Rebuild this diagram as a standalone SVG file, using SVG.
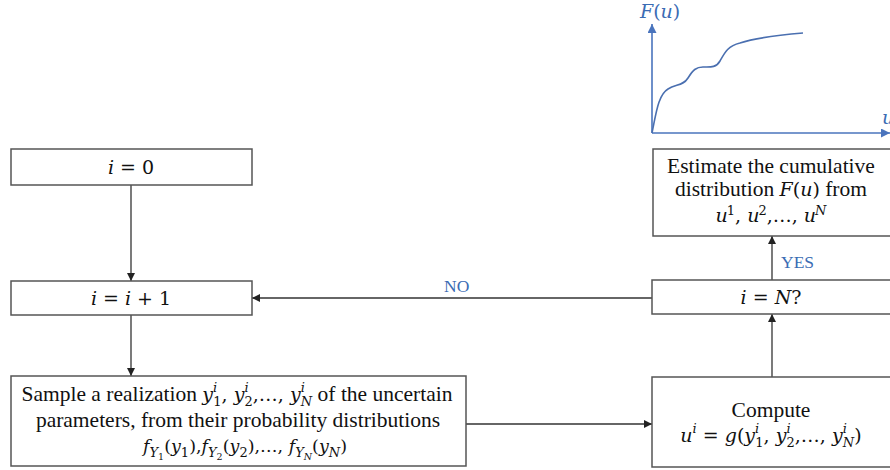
<svg xmlns="http://www.w3.org/2000/svg" width="890" height="470" viewBox="0 0 890 470">
  <style>
    .box { fill: #ffffff; stroke: #555555; stroke-width: 1.5; }
    .t { font-family: "Liberation Serif", "Times New Roman", serif; font-size: 21.5px; fill: #111111; }
    .mt { text-anchor: middle; }
    .mf { font-family: "DejaVu Serif", "Liberation Serif", serif; font-size: 19px; }
    .m { font-style: italic; }
    .s { font-size: 13px; }
    .ss { font-size: 9.5px; }
    .narrow { font-size: 17.5px; }
    .lbl { font-family: "Liberation Serif", "Times New Roman", serif; font-size: 17.5px; fill: #3b6cb4; }
    .wire { fill: none; stroke: #333333; stroke-width: 1.3; }
    .axis { fill: none; stroke: #4a74bd; stroke-width: 1.6; }
    .curve { fill: none; stroke: #4a6fb0; stroke-width: 1.6; }
    .blue { fill: #3b6cb4; }
  </style>
  <defs>
    <marker id="arr" viewBox="0 0 10 10" refX="10" refY="5" markerWidth="8" markerHeight="8" markerUnits="userSpaceOnUse" orient="auto">
      <path d="M0,0 L10,5 L0,10 z" fill="#222222"/>
    </marker>
    <marker id="barr" viewBox="0 0 10 10" refX="10" refY="5" markerWidth="9" markerHeight="9" markerUnits="userSpaceOnUse" orient="auto">
      <path d="M0,0 L10,5 L0,10 z" fill="#4a74bd"/>
    </marker>
  </defs>

  <rect width="890" height="470" fill="#ffffff"/>

  <!-- plot of the cumulative distribution -->
  <g id="cdf-plot">
    <line class="axis" x1="652" y1="133" x2="652" y2="24" marker-end="url(#barr)"/>
    <line class="axis" x1="652" y1="133" x2="890" y2="133" marker-end="url(#barr)"/>
    <path class="curve" d="M652,133 C656,114 658,95 668,89 C676,84 683,86 688,78 C693,70 696,67 703,67 C710,67 716,68 720,61 C725,52 728,46 740,43 C755,38 780,35 803,33"/>
    <text class="t mf blue" x="640" y="18"><tspan class="m">F</tspan>(<tspan class="m">u</tspan>)</text>
    <text class="t mf m blue" x="882" y="124">u</text>
  </g>

  <!-- connectors -->
  <g id="connectors">
    <line class="wire" x1="466" y1="424" x2="652" y2="424" marker-end="url(#arr)"/>
    <line class="wire" x1="131" y1="185" x2="131" y2="281" marker-end="url(#arr)"/>
    <line class="wire" x1="131" y1="315" x2="131" y2="376" marker-end="url(#arr)"/>
    <line class="wire" x1="772" y1="377" x2="772" y2="314" marker-end="url(#arr)"/>
    <line class="wire" x1="772" y1="280" x2="772" y2="236" marker-end="url(#arr)"/>
    <line class="wire" x1="652" y1="298" x2="252" y2="298" marker-end="url(#arr)"/>
    <text class="lbl" x="444" y="292">NO</text>
    <text class="lbl" x="781" y="268">YES</text>
  </g>

  <g id="init">
    <rect class="box" x="11" y="149" width="241" height="36"/>
    <text class="t mf mt" x="131" y="174"><tspan class="m">i</tspan> = 0</text>
  </g>

  <g id="increment">
    <rect class="box" x="11" y="281" width="241" height="34"/>
    <text class="t mf mt" x="131" y="305"><tspan class="m">i</tspan> = <tspan class="m">i</tspan> + 1</text>
  </g>

  <g id="sample">
    <rect class="box" x="11" y="376" width="455" height="90"/>
    <text class="t mt" x="237" y="401">Sample a realization <tspan class="mf m">y</tspan><tspan class="mf s m" dy="-9">i</tspan><tspan class="mf s" dx="-4" dy="14">1</tspan><tspan class="mf" dy="-5">,  </tspan><tspan class="mf m">y</tspan><tspan class="mf s m" dy="-9">i</tspan><tspan class="mf s" dx="-4" dy="14">2</tspan><tspan class="mf" dy="-5">,…,  </tspan><tspan class="mf m">y</tspan><tspan class="mf s m" dy="-9">i</tspan><tspan class="mf s m" dx="-4" dy="14">N</tspan><tspan dy="-5"> of the uncertain</tspan></text>
    <text class="t mt" x="238" y="427">parameters, from their probability distributions</text>
    <text class="t mf narrow mt" x="245" y="452"><tspan class="m">f</tspan><tspan class="s m" dy="5">Y</tspan><tspan class="ss" dy="3">1</tspan><tspan dy="-8">(</tspan><tspan class="m">y</tspan><tspan class="s" dy="5">1</tspan><tspan dy="-5">),</tspan><tspan class="m">f</tspan><tspan class="s m" dy="5">Y</tspan><tspan class="ss" dy="3">2</tspan><tspan dy="-8">(</tspan><tspan class="m">y</tspan><tspan class="s" dy="5">2</tspan><tspan dy="-5">),…, </tspan><tspan class="m">f</tspan><tspan class="s m" dy="5">Y</tspan><tspan class="ss m" dy="3">N</tspan><tspan dy="-8">(</tspan><tspan class="m">y</tspan><tspan class="s m" dy="5">N</tspan><tspan dy="-5">)</tspan></text>
  </g>

  <g id="compute">
    <rect class="box" x="652" y="377" width="250" height="90"/>
    <text class="t mt" x="771" y="417">Compute</text>
    <text class="t mf mt" x="771" y="442"><tspan class="m">u</tspan><tspan class="s m" dy="-9">i</tspan><tspan dy="9"> = </tspan><tspan class="m">g</tspan>(<tspan class="m">y</tspan><tspan class="s m" dy="-9">i</tspan><tspan class="s" dx="-4" dy="14">1</tspan><tspan dy="-5">, </tspan><tspan class="m">y</tspan><tspan class="s m" dy="-9">i</tspan><tspan class="s" dx="-4" dy="14">2</tspan><tspan dy="-5">,…, </tspan><tspan class="m">y</tspan><tspan class="s m" dy="-9">i</tspan><tspan class="s m" dx="-4" dy="14">N</tspan><tspan dy="-5">)</tspan></text>
  </g>

  <g id="check">
    <rect class="box" x="652" y="280" width="250" height="34"/>
    <text class="t mf mt" x="771" y="304"><tspan class="m">i</tspan> = <tspan class="m">N</tspan>?</text>
  </g>

  <g id="estimate">
    <rect class="box" x="653" y="149" width="250" height="87"/>
    <text class="t mt" x="771" y="173">Estimate the cumulative</text>
    <text class="t mt" x="771" y="196">distribution <tspan class="mf m">F</tspan><tspan class="mf">(</tspan><tspan class="mf m">u</tspan><tspan class="mf">)</tspan> from</text>
    <text class="t mf mt" x="771" y="222"><tspan class="m">u</tspan><tspan class="s" dx="-1" dy="-7">1</tspan><tspan dy="7">, </tspan><tspan class="m">u</tspan><tspan class="s" dx="-1" dy="-7">2</tspan><tspan dy="7">,…, </tspan><tspan class="m">u</tspan><tspan class="s m" dx="-1" dy="-7">N</tspan></text>
  </g>
</svg>
